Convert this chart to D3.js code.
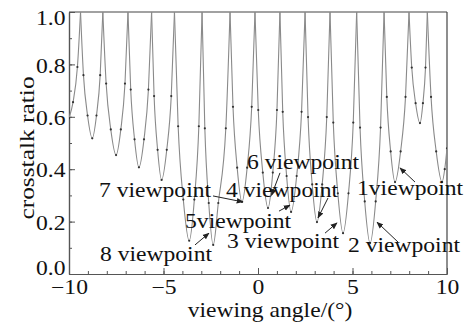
<!DOCTYPE html>
<html><head><meta charset="utf-8">
<script src="https://cdn.jsdelivr.net/npm/d3@7"></script>
<style>
html,body{margin:0;padding:0;background:#fff;}
</style></head>
<body><svg id="chart" width="464" height="322"></svg>
<script>
// ---- data ----
const angles = [
 -10, -9.786, -9.555, -9.39,
 -9.235, -9.018, -8.77, -8.546, -8.35, -8.21,
 -8.035, -7.79, -7.51, -7.258, -7.038, -6.88,
 -6.735, -6.532, -6.30, -6.032, -5.798, -5.63,
 -5.498, -5.312, -5.10, -4.828, -4.59, -4.42,
 -4.225, -3.952, -3.64, -3.368, -3.13, -2.96,
 -2.813, -2.606, -2.37, -2.10, -1.703, -1.48,
 -1.323, -1.102, -0.85, -0.574, -0.333, -0.16,
 0.013, 0.254, 0.53, 0.782, 1.003, 1.16,
 1.308, 1.514, 1.75, 2.046, 2.305, 2.49,
 2.648, 2.868, 3.12, 3.396, 3.638, 3.81,
 3.983, 4.224, 4.50, 4.788, 5.04, 5.22,
 5.398, 5.646, 5.93, 6.226, 6.485, 6.67,
 6.815, 7.018, 7.25, 7.546, 7.805, 7.99,
 8.135, 8.338, 8.57, 8.726, 8.863, 8.96,
 9.155, 9.428, 9.74, 9.88, 10
];
const ratios = [
 0.595, 0.656, 0.79, 1.0,
 0.759, 0.605, 0.518, 0.605, 0.759, 1.0,
 0.727, 0.552, 0.454, 0.552, 0.727, 1.0,
 0.704, 0.514, 0.407, 0.514, 0.704, 1.0,
 0.679, 0.474, 0.359, 0.474, 0.679, 1.0,
 0.564, 0.284, 0.127, 0.284, 0.564, 1.0,
 0.556, 0.271, 0.111, 0.271, 0.556, 1.0,
 0.638, 0.406, 0.275, 0.406, 0.638, 1.0,
 0.626, 0.387, 0.252, 0.387, 0.626, 1.0,
 0.619, 0.374, 0.237, 0.374, 0.619, 1.0,
 0.599, 0.342, 0.198, 0.342, 0.599, 1.0,
 0.578, 0.308, 0.156, 0.308, 0.578, 1.0,
 0.559, 0.277, 0.118, 0.277, 0.559, 1.0,
 0.676, 0.468, 0.351, 0.468, 0.676, 1.0,
 0.788, 0.652, 0.576, 0.652, 0.788, 1.0,
 0.676, 0.468, 0.351, 0.40, 0.48
];
const xTicks = [-10, -5, 0, 5, 10];
const yTicks = [0, 0.2, 0.4, 0.6, 0.8, 1.0];
const xTitle = "viewing angle/(°)";
const yTitle = "crosstalk ratio";
// annotations: label, text anchor point (angle, ratio), arrow from -> to
const annLabels = ["6 viewpoint","7 viewpoint","4 viewpoint","5viewpoint","8 viewpoint","3 viewpoint","2 viewpoint","1viewpoint"];
const annText   = [[-0.58,0.401],[-8.41,0.294],[-1.69,0.294],[-3.86,0.176],[-8.36,0.050],[-1.64,0.099],[4.76,0.084],[5.24,0.302]];
const annFrom   = [[1.164,0.386],[-2.381,0.298],[3.704,0.290],[1.111,0.240],[-3.333,0.111],[3.545,0.156],[7.407,0.122],[8.307,0.351]];
const annTo     = [[0.714,0.300],[-0.794,0.275],[3.175,0.214],[1.693,0.263],[-2.593,0.156],[4.180,0.195],[6.296,0.198],[7.513,0.405]];

// ---- layout ----
const FONT = "'Liberation Serif', 'Times New Roman', Times, serif";
const svg = d3.select("#chart");
const L = 69, R = 447, T = 12, B = 274;
const x = d3.scaleLinear().domain([-10, 10]).range([L, R]);
const y = d3.scaleLinear().domain([0, 1]).range([B, T]);
const FS = 20, SX = 1.18;

svg.append("defs").append("clipPath").attr("id","plotclip")
  .append("rect").attr("x",L).attr("y",T).attr("width",R-L).attr("height",B-T);
const mk = svg.select("defs").append("marker").attr("id","arrow")
  .attr("viewBox","0 0 10 10").attr("refX",9).attr("refY",5)
  .attr("markerWidth",7).attr("markerHeight",7).attr("markerUnits","userSpaceOnUse")
  .attr("orient","auto");
mk.append("path").attr("d","M0,1 L10,5 L0,9 z").attr("fill","#222");

// frame
svg.append("line").attr("x1",L).attr("x2",R).attr("y1",T).attr("y2",T).attr("stroke","#444").attr("stroke-width",1.2);
svg.append("line").attr("x1",R).attr("x2",R).attr("y1",T).attr("y2",B).attr("stroke","#444").attr("stroke-width",1.2);

// x axis
const gxMinor = svg.append("g").attr("transform",`translate(0,${B})`)
  .call(d3.axisBottom(x).tickValues(d3.range(-10, 10.001, 1)).tickSizeInner(-3).tickSizeOuter(0).tickFormat(""));
const gx = svg.append("g").attr("transform",`translate(0,${B})`)
  .call(d3.axisBottom(x).tickValues(xTicks).tickSizeInner(-6).tickSizeOuter(0).tickPadding(6));
// y axis
const gyMinor = svg.append("g").attr("transform",`translate(${L},0)`)
  .call(d3.axisLeft(y).tickValues(d3.range(0, 1.001, 0.1)).tickSizeInner(-3).tickSizeOuter(0).tickFormat(""));
const gy = svg.append("g").attr("transform",`translate(${L},0)`)
  .call(d3.axisLeft(y).tickValues(yTicks).tickSizeInner(-6).tickSizeOuter(0).tickPadding(3).tickFormat(d3.format(".1f")));
[gxMinor,gx,gyMinor,gy].forEach(g=>{
  g.attr("font-family",FONT).attr("font-size",FS);
  g.selectAll("path.domain").attr("stroke","#555").attr("stroke-width",1.2);
  g.selectAll(".tick line").attr("stroke","#555");
});
gx.selectAll("text").attr("font-family",FONT).attr("font-size",FS).attr("fill","#111")
  .attr("transform",`scale(${SX},1)`);
gy.selectAll("text").attr("font-family",FONT).attr("font-size",FS).attr("fill","#111")
  .attr("dy", d => d === 1 ? "0.6em" : d === 0 ? "0.02em" : "0.38em")
  .attr("transform",`scale(${SX},1)`);

// titles
svg.append("text").attr("transform",`translate(270,317) scale(${SX},1)`)
  .attr("font-family",FONT).attr("fill","#111")
  .attr("text-anchor","middle").attr("font-size",FS).text(xTitle);
svg.append("text").attr("transform",`translate(34,148) rotate(-90) scale(1.27,1)`)
  .attr("font-family",FONT).attr("fill","#111")
  .attr("text-anchor","middle").attr("font-size",FS).text(yTitle);

// curve: split into lobes at the peaks
const pts = angles.map((a,i)=>[a, ratios[i]]);
const segs = []; let cur = [];
pts.forEach(p=>{ cur.push(p); if (p[1] >= 1 && cur.length > 1) { segs.push(cur); cur = [p]; } });
if (cur.length > 1) segs.push(cur);
const line = d3.line().x(d=>x(d[0])).y(d=>y(d[1])).curve(d3.curveMonotoneX);
const plot = svg.append("g").attr("clip-path","url(#plotclip)");
plot.selectAll("path.lobe").data(segs).join("path").attr("class","lobe")
  .attr("d", line).attr("fill","none").attr("stroke","#8a8a8a").attr("stroke-width",1.1);
plot.selectAll("circle.pt").data(pts.filter(p=>p[1]<1)).join("circle").attr("class","pt")
  .attr("cx",d=>x(d[0])).attr("cy",d=>y(d[1])).attr("r",1.1).attr("fill","#333");

// annotations
annLabels.forEach((lab,i)=>{
  svg.append("line").attr("x1",x(annFrom[i][0])).attr("y1",y(annFrom[i][1]))
    .attr("x2",x(annTo[i][0])).attr("y2",y(annTo[i][1]))
    .attr("stroke","#222").attr("stroke-width",1).attr("marker-end","url(#arrow)");
  svg.append("text").attr("transform",`translate(${x(annText[i][0])},${y(annText[i][1])}) scale(${SX},1)`)
    .attr("font-family",FONT).attr("fill","#111")
    .attr("font-size",FS).text(lab);
});
</script></body></html>
